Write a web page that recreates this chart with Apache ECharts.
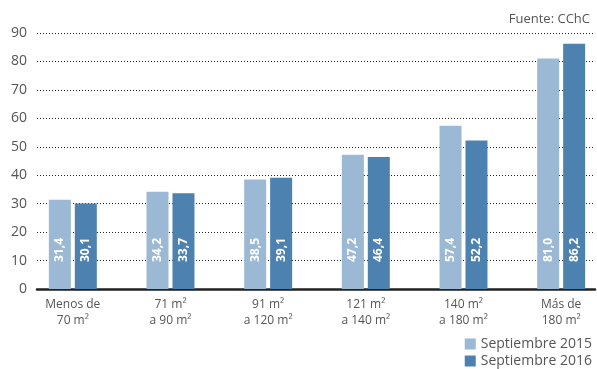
<!DOCTYPE html>
<html>
<head>
<meta charset="utf-8">
<script src="https://cdn.jsdelivr.net/npm/echarts@6/dist/echarts.min.js"></script>
<style>
    html, body { margin: 0; padding: 0; background: #fff; }
    #chart { width: 597px; height: 369px; }
</style>
</head>
<body>
<div id="chart"></div>
<script>
    // datos
    var categories = ['Menos de\n70 m²', '71 m²\na 90 m²', '91 m²\na 120 m²', '121 m²\na 140 m²', '140 m²\na 180 m²', 'Más de\n180 m²'];
    var sep2015 = [31.4, 34.2, 38.5, 47.2, 57.4, 81.0];
    var sep2016 = [30.1, 33.7, 39.1, 46.4, 52.2, 86.2];
    var seriesNames = ['Septiembre 2015', 'Septiembre 2016'];
    var yTicks = [0, 10, 20, 30, 40, 50, 60, 70, 80, 90];

    var font = 'Open Sans';
    var fmt = function (v) { return v.toFixed(1).replace('.', ','); };

    var myChart = echarts.init(document.getElementById('chart'));
    var barLabel = {
        show: true,
        position: 'insideBottom',
        rotate: 90,
        align: 'left',
        verticalAlign: 'middle',
        distance: 27,
        color: '#fff',
        fontFamily: font,
        fontSize: 12,
        fontWeight: 'bold',
        formatter: function (p) { return fmt(p.value); }
    };

    var option = {
        animation: false,
        color: ['#9bb9d4', '#4d81b0'],
        title: {
            text: 'Fuente: CChC',
            right: 2,
            top: 8,
            textStyle: { fontFamily: font, fontSize: 13, fontWeight: 'normal', color: '#555' }
        },
        legend: {
            orient: 'vertical',
            right: 0,
            top: 332,
            height: 40,
            itemWidth: 11,
            itemHeight: 11,
            itemGap: 3,
            icon: 'rect',
            data: seriesNames,
            textStyle: { fontFamily: font, fontSize: 14, color: '#555' }
        },
        grid: [
            { left: 37, right: 2, top: 33, bottom: 80 },
            { left: 24, width: 586, top: 33, bottom: 80, outerBoundsMode: 'none' }
        ],
        xAxis: [
            {
                gridIndex: 0,
                type: 'category',
                data: [''],
                axisLine: { lineStyle: { color: '#222', width: 2.5 } },
                axisTick: { show: false },
                axisLabel: { show: false }
            },
            {
                gridIndex: 1,
                type: 'category',
                data: categories,
                axisLine: { show: false },
                axisTick: { show: false },
                axisLabel: { fontFamily: font, fontSize: 12, color: '#555', lineHeight: 16, margin: 8, interval: 0 }
            }
        ],
        yAxis: [
            {
                gridIndex: 0,
                type: 'value',
                min: yTicks[0],
                max: yTicks[yTicks.length - 1],
                interval: 10,
                axisLine: { show: false },
                axisTick: { show: false },
                axisLabel: { fontFamily: font, fontSize: 14, color: '#555', margin: 10 },
                splitLine: { lineStyle: { color: '#222', type: [1, 2], width: 1 } }
            },
            {
                gridIndex: 1,
                type: 'value',
                min: yTicks[0],
                max: yTicks[yTicks.length - 1],
                interval: 10,
                show: false,
                splitLine: { show: false }
            }
        ],
        series: [
            {
                name: seriesNames[0], type: 'bar', xAxisIndex: 1, yAxisIndex: 1,
                data: sep2015, barWidth: 22, barGap: '18%', label: barLabel
            },
            {
                name: seriesNames[1], type: 'bar', xAxisIndex: 1, yAxisIndex: 1,
                data: sep2016, barWidth: 22, barGap: '18%', label: barLabel
            }
        ]
    };
    myChart.setOption(option);
</script>
</body>
</html>
